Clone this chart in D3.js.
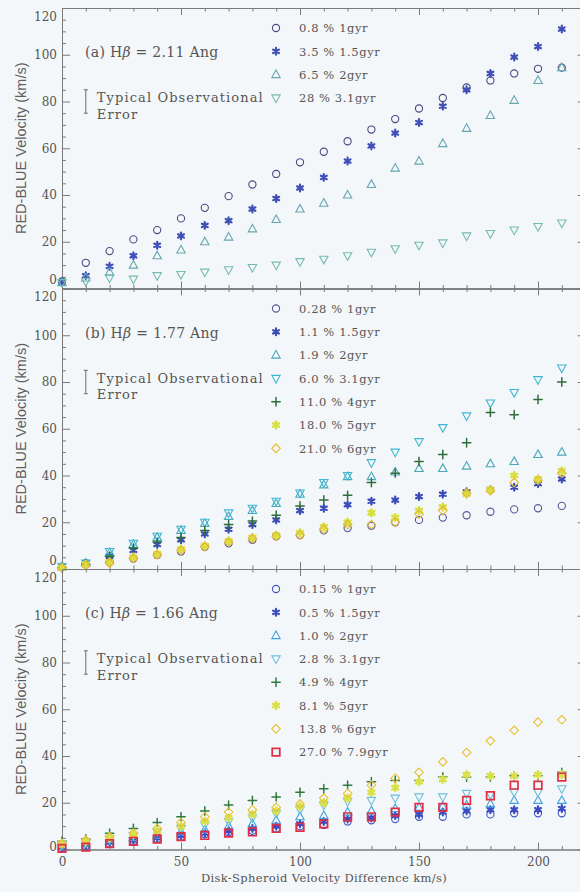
<!DOCTYPE html>
<html>
<head>
<meta charset="utf-8">
<script src="https://cdn.jsdelivr.net/npm/d3@7"></script>
<style>
  html, body { margin: 0; padding: 0; background: #f4f7f9; }
  svg { display: block; }
</style>
</head>
<body>
<svg id="chart" width="580" height="892"></svg>
<script>
// Disk-Spheroid velocity difference (km/s) sampled for every model
const velocityDiff = [0, 10, 20, 30, 40, 50, 60, 70, 80, 90, 100, 110, 120, 130, 140, 150, 160, 170, 180, 190, 200, 210];

const xTickLabels = [0, 50, 100, 150, 200];
const yTickLabels = [0, 20, 40, 60, 80, 100, 120];

// Panel (a): Hβ = 2.11 Ang
const aLabels = ["0.8 % 1gyr", "3.5 % 1.5gyr", "6.5 % 2gyr", "28 % 3.1gyr"];
const a1 = [3, 11, 16, 21, 25, 30, 34.5, 39.5, 44.5, 49, 54, 58.5, 63, 68, 72.5, 77, 81.5, 86, 89, 92, 94, 94.5];
const a2 = [3, 5.5, 9.5, 14, 18.5, 22.5, 27, 29, 34, 38.5, 43, 47.5, 54.5, 61, 66.5, 71, 78, 85, 92, 99, 103.5, 111];
const a3 = [2.5, 4.5, 7, 10, 14, 16.5, 20, 22, 25.5, 29.5, 34, 36.5, 40, 44.5, 51.5, 54.5, 62, 68.5, 74, 80.5, 89, 94.5];
const a4 = [2.5, 3, 4.5, 4, 5.5, 6, 7, 8, 9, 10, 11.5, 12.5, 14, 15.5, 17, 18.5, 19.5, 22.5, 23.5, 25, 26.5, 28];

// Panel (b): Hβ = 1.77 Ang
const bLabels = ["0.28 % 1gyr", "1.1 % 1.5gyr", "1.9 % 2gyr", "6.0 % 3.1gyr", "11.0 % 4gyr", "18.0 % 5gyr", "21.0 % 6gyr"];
const b1 = [1, 2.5, 3, 4.5, 6, 7.5, 9.5, 11, 12.5, 14, 14.5, 16.5, 17.5, 18.5, 20, 21, 22, 23, 24.5, 25.5, 26, 27];
const b2 = [0.5, 2, 5.5, 8, 10.5, 12.5, 15, 17, 19, 21, 25, 26, 27.5, 29, 29.5, 31, 32, 33, 34, 35, 36.5, 38.5];
const b3 = [1, 2.5, 7, 10.5, 13.5, 16.5, 19.5, 22.5, 25, 28, 32, 36, 39.5, 39.5, 41.5, 43, 43, 44, 45, 46, 49, 50];
const b4 = [1, 2.5, 7.5, 11, 14, 17, 20, 24, 26, 29, 32.5, 37, 40, 45.5, 50, 54.5, 60.5, 65.5, 71, 75.5, 81, 86];
const b5 = [0.5, 2, 5.5, 9, 11.5, 13.5, 16.5, 19, 20.5, 23, 27, 29.5, 31.5, 37, 41, 46, 49, 54, 67, 66, 72.5, 80];
const b6 = [0.5, 2, 3, 5, 6.5, 8.5, 10, 12, 13.5, 14.5, 15.5, 18, 20, 24, 22, 25, 26.5, 32, 34, 40, 38.5, 42];
const b7 = [0.5, 1.5, 2.5, 4.5, 6, 8, 9.5, 11.5, 13, 14, 14.5, 17, 19, 19, 20, 23.5, 25, 32.5, 33.5, 37, 38, 41];

// Panel (c): Hβ = 1.66 Ang
const cLabels = ["0.15 % 1gyr", "0.5 % 1.5gyr", "1.0 % 2gyr", "2.8 % 3.1gyr", "4.9 % 4gyr", "8.1 % 5gyr", "13.8 % 6gyr", "27.0 % 7.9gyr"];
const c1 = [0.5, 1.5, 2.5, 3.5, 4.5, 5.5, 6.5, 7.5, 8, 9, 10, 10.5, 12, 12.5, 13, 14, 14, 15, 15, 15.5, 15.5, 15.5];
const c2 = [1, 2, 3, 4, 5, 6, 7, 8, 9, 10, 11, 12, 13, 13.5, 14.5, 15, 16, 16.5, 17, 17, 17, 17.5];
const c3 = [1.5, 2.5, 3.5, 5, 6, 7.5, 8.5, 10, 11, 12.5, 14, 14.5, 16, 16.5, 17.5, 18, 18.5, 19, 19.5, 21, 21, 21];
const c4 = [2, 3, 4.5, 6, 7.5, 9, 10.5, 12, 13.5, 15.5, 17, 19, 20.5, 21, 22, 22.5, 22.5, 24, 23.5, 24.5, 24.5, 26];
const c5 = [3.5, 4.5, 7, 9, 11.5, 14, 16.5, 19, 21, 22.5, 24.5, 26, 27.5, 29, 29.5, 29.5, 31, 31, 31, 31.5, 31.5, 33];
const c6 = [2.5, 3.5, 5, 6.5, 8, 10, 12, 13.5, 15, 16.5, 18.5, 20, 22, 24.5, 26.5, 29, 30, 32, 31.5, 31.5, 32, 32];
const c7 = [2.5, 4, 5.5, 7, 9, 11.5, 14, 16, 17, 18, 19.5, 22, 24, 27.5, 30.5, 33, 37.5, 41.5, 46.5, 51, 54.5, 55.5];
const c8 = [0.5, 1, 2.5, 3.5, 4.5, 5.5, 6, 7, 7.5, 9, 9.5, 11, 14, 14, 16, 18, 18, 21, 23, 27.5, 27.5, 31];

// Plot symbol for each population, in legend order
const symbolKinds = ["circle", "asterisk", "triangleUp", "triangleDown", "plus", "star", "diamond", "square"];
// Marker colours per panel
const aColors = ["#4a4a82", "#4050b8", "#66a6b2", "#74bcb0"];
const bColors = ["#56579a", "#3a4cb8", "#48a8ba", "#3fb6d6", "#2f6e3a", "#d8e040", "#e8b830"];
const cColors = ["#3f55c8", "#3a4cc0", "#3fa0e0", "#6cbfdc", "#2f7a3c", "#d9e04a", "#e8c030", "#df2f45"];

const panels = [
  { title: "(a) H", value: " = 2.11 Ang", labels: aLabels, colors: aColors, series: [a1, a2, a3, a4] },
  { title: "(b) H", value: " = 1.77 Ang", labels: bLabels, colors: bColors, series: [b1, b2, b3, b4, b5, b6, b7] },
  { title: "(c) H", value: " = 1.66 Ang", labels: cLabels, colors: cColors, series: [c1, c2, c3, c4, c5, c6, c7, c8] }
];

const svg = d3.select("#chart");
const plotLeft = 62, plotRight = 585.6;
const panelTops = [8, 288.5, 569], panelH = 280.5;
const axisColor = "#7a7a7a", textColor = "#555";
const serif = "'DejaVu Serif', serif";

const x = d3.scaleLinear().domain([0, 220]).range([plotLeft, plotRight]);

// Marker path builders (centred on 0,0)
function markerPath(kind) {
  const p = d3.path();
  switch (kind) {
    case "circle": p.arc(0, 0, 3.6, 0, 2 * Math.PI); break;
    case "triangleUp": p.moveTo(0, -4.6); p.lineTo(4.2, 3); p.lineTo(-4.2, 3); p.closePath(); break;
    case "triangleDown": p.moveTo(0, 4.6); p.lineTo(4.2, -3); p.lineTo(-4.2, -3); p.closePath(); break;
    case "diamond": p.moveTo(0, -4.3); p.lineTo(4.3, 0); p.lineTo(0, 4.3); p.lineTo(-4.3, 0); p.closePath(); break;
    case "square": p.rect(-3.8, -3.8, 7.6, 7.6); break;
    case "plus": p.moveTo(-4.2, 0); p.lineTo(4.2, 0); p.moveTo(0, -4.2); p.lineTo(0, 4.2); break;
    default: // asterisk / star
      for (let k = 0; k < 3; k++) {
        const a = Math.PI / 2 + k * Math.PI / 3;
        p.moveTo(3.4 * Math.cos(a), 3.4 * Math.sin(a));
        p.lineTo(-3.4 * Math.cos(a), -3.4 * Math.sin(a));
      }
  }
  return p.toString();
}
function markerStrokeWidth(kind) {
  if (kind === "asterisk") return 2.2;
  if (kind === "star") return 2.6;
  if (kind === "square") return 1.7;
  if (kind === "plus") return 1.5;
  return 1.1;
}

panels.forEach((panel, pi) => {
  const top = panelTops[pi], bottom = top + panelH;
  const y = d3.scaleLinear().domain([0, 120]).range([bottom, top]);
  const g = svg.append("g");

  // Inward-pointing ticks on all four sides
  const yMinor = d3.range(0, 121, 5).filter(v => v % 20 !== 0);
  const xMinor = d3.range(0, 221, 10).filter(v => v % 50 !== 0);
  const xMajor = [0, 50, 100, 150, 200];

  const addAxis = (axis, tx, ty) => {
    const a = g.append("g").attr("transform", `translate(${tx},${ty})`).call(axis);
    a.selectAll("path, line").attr("stroke", axisColor).attr("stroke-width", 1);
    a.selectAll("text").attr("fill", textColor).style("font-family", serif).style("font-size", "12px");
    return a;
  };

  const left = addAxis(d3.axisLeft(y).tickValues(yTickLabels).tickSizeInner(-8).tickSizeOuter(0).tickPadding(5).tickFormat(d3.format("d")), plotLeft, 0);
  // Keep the end labels inside the panel so neighbouring panels' 0 and 120 stack
  left.selectAll(".tick text").attr("dy", d => d === 120 ? "1.0em" : d === 0 ? (pi === 2 ? "0.1em" : "-0.38em") : "0.32em");
  addAxis(d3.axisLeft(y).tickValues(yMinor).tickSizeInner(-4).tickSizeOuter(0).tickFormat(""), plotLeft, 0);
  addAxis(d3.axisRight(y).tickValues(yTickLabels).tickSizeInner(-8).tickSizeOuter(0).tickFormat(""), plotRight, 0);
  addAxis(d3.axisRight(y).tickValues(yMinor).tickSizeInner(-4).tickSizeOuter(0).tickFormat(""), plotRight, 0);
  addAxis(d3.axisTop(x).tickValues(xMajor).tickSizeInner(-7).tickSizeOuter(0).tickFormat(""), 0, top);
  addAxis(d3.axisTop(x).tickValues(xMinor).tickSizeInner(-3.5).tickSizeOuter(0).tickFormat(""), 0, top);
  const bottomAxis = d3.axisBottom(x).tickValues(pi === 2 ? xTickLabels : xMajor).tickSizeInner(-7).tickSizeOuter(0).tickPadding(8)
    .tickFormat(pi === 2 ? d3.format("d") : "");
  addAxis(bottomAxis, 0, bottom);
  addAxis(d3.axisBottom(x).tickValues(xMinor).tickSizeInner(-3.5).tickSizeOuter(0).tickFormat(""), 0, bottom);

  // Y axis title
  g.append("text")
    .attr("transform", `translate(26,${(top + bottom) / 2}) rotate(-90)`)
    .attr("text-anchor", "middle")
    .attr("fill", "#5f5f5f")
    .style("font-family", "'Liberation Sans', Arial, sans-serif")
    .style("font-size", "14.5px")
    .text("RED-BLUE Velocity (km/s)");

  // Panel title with Hβ
  const t = g.append("text")
    .attr("x", 85).attr("y", top + 49)
    .attr("fill", textColor)
    .style("font-family", serif).style("font-size", "14px").style("letter-spacing", "0.3px");
  t.append("tspan").text(panel.title);
  t.append("tspan").style("font-style", "italic").text("β");
  t.append("tspan").text(panel.value);

  // Typical observational error bar (±5 km/s at 80 km/s)
  const ex = x(10);
  const eb = g.append("g").attr("stroke", "#6a6a6a").attr("stroke-width", 1);
  eb.append("line").attr("x1", ex).attr("x2", ex).attr("y1", y(75)).attr("y2", y(85));
  eb.append("line").attr("x1", ex - 2).attr("x2", ex + 2).attr("y1", y(75)).attr("y2", y(75));
  eb.append("line").attr("x1", ex - 2).attr("x2", ex + 2).attr("y1", y(85)).attr("y2", y(85));
  const et = g.append("text").attr("fill", textColor)
    .style("font-family", serif).style("font-size", "13px").style("letter-spacing", "1.1px");
  et.append("tspan").attr("x", ex + 11).attr("y", y(80) + 0.5).text("Typical Observational");
  et.append("tspan").attr("x", ex + 11).attr("y", y(80) + 17).text("Error");

  // Data markers
  panel.series.forEach((vals, si) => {
    const kind = symbolKinds[si], color = panel.colors[si];
    g.append("g").selectAll("path")
      .data(vals.map((v, i) => [velocityDiff[i], v]))
      .join("path")
      .attr("transform", d => `translate(${x(d[0])},${y(d[1])})`)
      .attr("d", markerPath(kind))
      .attr("fill", "none")
      .attr("stroke", color)
      .attr("stroke-width", markerStrokeWidth(kind))
      .attr("stroke-linecap", "round");
  });

  // Legend
  panel.labels.forEach((lab, si) => {
    const ly = top + 20 + 23.3 * si;
    g.append("path")
      .attr("transform", `translate(276,${ly})`)
      .attr("d", markerPath(symbolKinds[si]))
      .attr("fill", "none")
      .attr("stroke", panel.colors[si])
      .attr("stroke-width", markerStrokeWidth(symbolKinds[si]))
      .attr("stroke-linecap", "round");
    g.append("text")
      .attr("x", 299).attr("y", ly + 4.2)
      .attr("fill", textColor)
      .style("font-family", serif).style("font-size", "11.5px").style("letter-spacing", "0.6px")
      .text(lab);
  });
});

// X axis title
svg.append("text")
  .attr("x", 324).attr("y", 882)
  .attr("text-anchor", "middle")
  .attr("fill", textColor)
  .style("font-family", serif).style("font-size", "11.5px").style("letter-spacing", "0.35px")
  .text("Disk-Spheroid Velocity Difference km/s)");
</script>
</body>
</html>
